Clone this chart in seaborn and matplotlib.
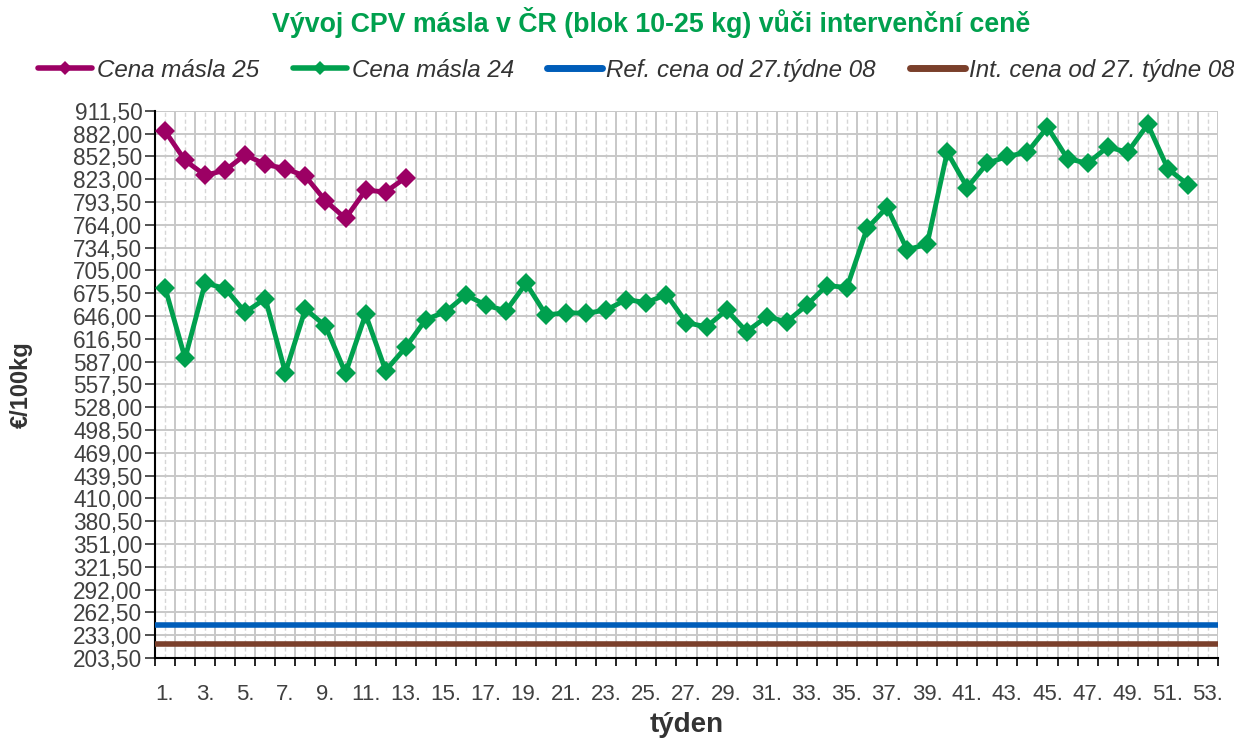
import numpy as np
import pandas as pd
import seaborn as sns
import matplotlib.pyplot as plt
from matplotlib.ticker import FixedLocator, FixedFormatter

# weekly butter prices (EUR/100kg)
weeks = list(range(1, 54))
price_25 = [885.4, 847.3, 828.2, 834.6, 854.7, 842.1, 836.8, 826.9, 795.2, 772.3,
            808.8, 806.6, 825.2]
price_24 = [682.9, 591.4, 688.8, 681.6, 650.8, 668.6, 572.8, 655.1, 633.1, 572.0,
            648.2, 575.4, 605.4, 641.5, 651.6, 673.3, 660.2, 652.5, 688.4, 647.3,
            650.3, 649.5, 653.8, 667.3, 663.4, 673.8, 637.3, 632.1, 653.8, 625.8,
            645.1, 638.6, 660.2, 685.5, 682.9, 759.3, 786.6, 731.9, 738.8, 858.1,
            812.3, 843.8, 852.5, 858.1, 890.5, 849.5, 843.8, 864.6, 858.1, 894.0,
            836.6, 816.1]
ref_price = 246.39
int_price = 221.75

series_names = ["Cena másla 25", "Cena másla 24",
                "Ref. cena od 27.týdne 08", "Int. cena od 27. týdne 08"]
colors = ["#9C0064", "#00A04E", "#005DB9", "#7A3F2B"]

y_ticks = [203.5 + 29.5 * i for i in range(25)]

sns.set_style("white")
plt.rcParams["font.family"] = ["Liberation Sans", "DejaVu Sans"]
text_color = "#404040"

df = pd.concat([
    pd.DataFrame({"week": weeks[:len(price_25)], "price": price_25, "series": series_names[0]}),
    pd.DataFrame({"week": weeks[:len(price_24)], "price": price_24, "series": series_names[1]}),
])

fig = plt.figure(figsize=(12.34, 7.39), dpi=100)
ax = fig.add_axes([0.1256, 0.1096, 0.8614, 0.7404])

ax.axhline(ref_price, color=colors[2], lw=4, label=series_names[2], zorder=3)
ax.axhline(int_price, color=colors[3], lw=4, label=series_names[3], zorder=3)

sns.lineplot(data=df, x="week", y="price", hue="series", hue_order=series_names[:2],
             palette=colors[:2], marker="D", markersize=10, markeredgewidth=0,
             linewidth=3.5, ax=ax, legend=False, zorder=4)

ax.set_xlim(0.5, 53.5)
ax.set_ylim(y_ticks[0], y_ticks[-1])

# category axis: ticks at boundaries, labels at centres
bounds = [w - 0.5 for w in weeks] + [weeks[-1] + 0.5]
ax.xaxis.set_major_locator(FixedLocator(bounds))
ax.xaxis.set_major_formatter(FixedFormatter([""] * len(bounds)))
ax.xaxis.set_minor_locator(FixedLocator(weeks))
ax.xaxis.set_minor_formatter(FixedFormatter([f"{w}." if w % 2 == 1 else "" for w in weeks]))
ax.tick_params(axis="x", which="major", length=6, width=1.2, color="black", direction="out")
ax.tick_params(axis="x", which="minor", length=0, labelsize=16, labelcolor=text_color, pad=19)

ax.set_yticks(y_ticks)
ax.set_yticklabels([f"{v:.2f}".replace(".", ",") for v in y_ticks])
ax.tick_params(axis="y", length=7, width=1.2, color="#333333", direction="out",
               labelsize=16.3, labelcolor=text_color, pad=2)
ax.tick_params(left=True, bottom=True, which="both")

ax.grid(True, which="major", axis="both", color="#C8C8C8", lw=1.4, zorder=0)
ax.grid(True, which="minor", axis="x", color="#D6D6D6", lw=1.0, ls=(0, (3, 2)), zorder=0)
ax.set_axisbelow(True)

for side in ["top", "right"]:
    ax.spines[side].set_visible(False)
for side in ["left", "bottom"]:
    ax.spines[side].set_color("black")
    ax.spines[side].set_linewidth(1.5)

ax.set_xlabel("týden", fontsize=20, fontweight="bold", color="#333333", labelpad=5)
ax.set_ylabel("€/100kg", fontsize=17, fontweight="bold", color="#333333", labelpad=29)

fig.suptitle("Vývoj CPV másla v ČR (blok 10-25 kg) vůči intervenční ceně",
             x=0.5276, y=0.99, fontsize=19.3, fontweight="bold", color="#00A04E")

handles = [
    plt.Line2D([], [], color=colors[0], lw=4, marker="D", markersize=7, markeredgewidth=0),
    plt.Line2D([], [], color=colors[1], lw=4, marker="D", markersize=7, markeredgewidth=0),
    plt.Line2D([], [], color=colors[2], lw=5),
    plt.Line2D([], [], color=colors[3], lw=5),
]
leg = fig.legend(handles, series_names, loc="center", bbox_to_anchor=(0.5154, 0.905),
                 ncol=4, frameon=False, handlelength=2.27, handletextpad=0.17,
                 columnspacing=1.4, prop={"style": "italic", "size": 17.4})
for t in leg.get_texts():
    t.set_color("#333333")

fig.savefig("out.png", dpi=100)
